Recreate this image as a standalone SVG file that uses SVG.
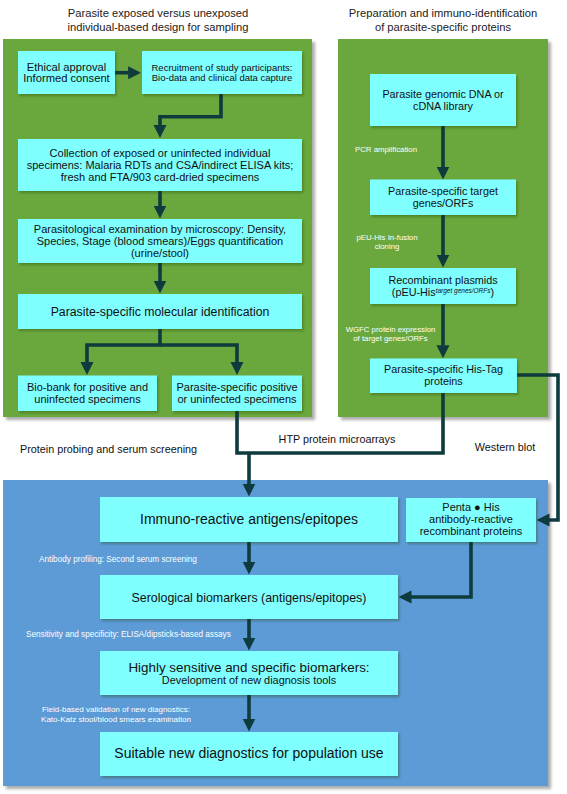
<svg xmlns="http://www.w3.org/2000/svg" width="567" height="794" viewBox="0 0 567 794">
<style>
text{font-family:"Liberation Sans",Arial,sans-serif;fill:#111;}
.t{font-size:11px;text-anchor:middle;}
.title{font-size:11.2px;text-anchor:middle;fill:#222;}
.s{font-size:7.8px;fill:#fff;}
.sc{font-size:7.8px;fill:#fff;text-anchor:middle;}
.sb{font-size:8.2px;fill:#fff;}
.box{fill:#80ffff;filter:url(#bs);}
.gp{fill:#6aa83e;filter:url(#ps);}
.bp{fill:#5b9bd5;filter:url(#ps);}
.c{fill:none;stroke:#0e3b3d;stroke-width:3.6;stroke-linejoin:miter;}
.a{marker-end:url(#ah);}
</style>
<defs>
<filter id="ps" x="-5%" y="-5%" width="112%" height="112%"><feDropShadow dx="3" dy="3" stdDeviation="1.5" flood-color="#444" flood-opacity="0.45"/></filter>
<filter id="bs" x="-5%" y="-5%" width="115%" height="120%"><feDropShadow dx="1.5" dy="2" stdDeviation="1" flood-color="#1d3d10" flood-opacity="0.35"/></filter>
<marker id="ah" viewBox="0 -7 13 14" refX="0.5" refY="0" markerWidth="13" markerHeight="14" markerUnits="userSpaceOnUse" orient="auto"><path d="M0,-6.5 L13,0 L0,6.5 z" fill="#0e3b3d"/></marker>
</defs>

<g id="titles">
<text class="title" x="158" y="17">Parasite exposed versus unexposed</text>
<text class="title" x="158" y="31">individual-based design for sampling</text>
<text class="title" x="443" y="17">Preparation and immuno-identification</text>
<text class="title" x="443" y="31">of parasite-specific proteins</text>
</g>

<g id="panels">
<rect id="panel-left" class="gp" x="3" y="39" width="309" height="378"/>
<rect id="panel-right" class="gp" x="338" y="39" width="210" height="378"/>
<rect id="panel-bottom" class="bp" x="3" y="480" width="545" height="306"/>
</g>

<g id="labels">
<text style="font-size:10.8px" x="20" y="453">Protein probing and serum screening</text>
<text style="font-size:10.8px;text-anchor:middle" x="337" y="443">HTP protein microarrays</text>
<text style="font-size:10.8px;text-anchor:middle" x="505" y="451">Western blot</text>
<text class="s" x="355" y="152">PCR amplification</text>
<text class="sc" x="387" y="239.5">pEU-His In-fusion</text>
<text class="sc" x="387" y="248.5">cloning</text>
<text class="sc" x="390.5" y="332">WGFC protein expression</text>
<text class="sc" x="390.5" y="341">of target genes/ORFs</text>
<text class="sb" x="39" y="561.5">Antibody profiling: Second serum screening</text>
<text class="sb" x="26" y="637">Sensitivity and specificity: ELISA/dipsticks-based assays</text>
<text class="sc" style="font-size:8px" x="116" y="712">Field-based validation of new diagnostics:</text>
<text class="sc" style="font-size:8px" x="116" y="721.5">Kato-Katz stool/blood smears examination</text>
</g>

<g id="connectors">
<path class="c a" d="M115,72.7 H128.6"/>
<path class="c a" d="M221,94 V116.7 H160 V125.5"/>
<path class="c a" d="M160,191 V206"/>
<path class="c a" d="M160,263 V281"/>
<path class="c a" d="M160,329 V345 H87 V362.5"/>
<path class="c a" d="M160,345 H237 V362.5"/>
<path class="c" d="M237,411 V453 H443 V393"/>
<path class="c a" d="M249,453 V484"/>
<path class="c a" d="M443,126 V167"/>
<path class="c a" d="M443,215 V255"/>
<path class="c a" d="M443,304 V345.7"/>
<path class="c a" d="M517,375 H558 V520 H549"/>
<path class="c a" d="M249,542 V562"/>
<path class="c a" d="M471,542 V597 H411"/>
<path class="c a" d="M249,619 V638"/>
<path class="c a" d="M249,695 V719"/>
</g>

<g id="n-ethical">
<rect class="box" x="18" y="51" width="97" height="43"/>
<text class="t" style="font-size:11.2px" x="66.5" y="71">Ethical approval</text>
<text class="t" style="font-size:11.2px" x="66.5" y="82">Informed consent</text>
</g>
<g id="n-recruit">
<rect class="box" x="142" y="51" width="160" height="43"/>
<text class="t" style="font-size:9.5px" x="222" y="70.5">Recruitment of study participants:</text>
<text class="t" style="font-size:9.5px" x="222" y="81">Bio-data and clinical data capture</text>
</g>
<g id="n-collection">
<rect class="box" x="18" y="139" width="284" height="52"/>
<text class="t" x="160" y="157">Collection of exposed or uninfected individual</text>
<text class="t" x="160" y="169">specimens: Malaria RDTs and CSA/indirect ELISA kits;</text>
<text class="t" x="160" y="181">fresh and FTA/903 card-dried specimens</text>
</g>
<g id="n-parasito">
<rect class="box" x="18" y="219" width="284" height="44"/>
<text class="t" x="160" y="233">Parasitological examination by microscopy: Density,</text>
<text class="t" x="160" y="245">Species, Stage (blood smears)/Eggs quantification</text>
<text class="t" x="160" y="257">(urine/stool)</text>
</g>
<g id="n-molecular">
<rect class="box" x="18" y="294" width="284" height="35"/>
<text class="t" style="font-size:12.3px" x="160" y="315.5">Parasite-specific molecular identification</text>
</g>
<g id="n-biobank">
<rect class="box" x="18" y="375.5" width="139" height="35.5"/>
<text class="t" x="87.5" y="391">Bio-bank for positive and</text>
<text class="t" x="87.5" y="403">uninfected specimens</text>
</g>
<g id="n-positive">
<rect class="box" x="172" y="375.5" width="130" height="35.5"/>
<text class="t" x="237" y="391">Parasite-specific positive</text>
<text class="t" x="237" y="403">or uninfected specimens</text>
</g>
<g id="n-genomic">
<rect class="box" x="370" y="74" width="146" height="52"/>
<text class="t" style="font-size:10.8px" x="443" y="98">Parasite genomic DNA or</text>
<text class="t" style="font-size:10.8px" x="443" y="110">cDNA library</text>
</g>
<g id="n-target">
<rect class="box" x="370" y="179.5" width="146" height="35.5"/>
<text class="t" style="font-size:10.8px" x="443" y="195">Parasite-specific target</text>
<text class="t" style="font-size:10.8px" x="443" y="206.5">genes/ORFs</text>
</g>
<g id="n-plasmid">
<rect class="box" x="370" y="268" width="146" height="36"/>
<text class="t" style="font-size:10.8px" x="443" y="283.5">Recombinant plasmids</text>
<text class="t" style="font-size:10.8px" x="443" y="296">(pEU-His<tspan style="font-size:6.5px;font-style:italic" dy="-3.5">target genes/ORFs</tspan><tspan dy="3.5">)</tspan></text>
</g>
<g id="n-histag">
<rect class="box" x="370" y="358.5" width="147" height="34.5"/>
<text class="t" style="font-size:10.8px" x="443.5" y="373">Parasite-specific His-Tag</text>
<text class="t" style="font-size:10.8px" x="443.5" y="385">proteins</text>
</g>
<g id="n-immuno">
<rect class="box" x="100" y="497" width="298" height="45"/>
<text class="t" style="font-size:14px" x="249" y="524">Immuno-reactive antigens/epitopes</text>
</g>
<g id="n-penta">
<rect class="box" x="406" y="498" width="130" height="44"/>
<text class="t" x="471" y="511">Penta ● His</text>
<text class="t" x="471" y="523">antibody-reactive</text>
<text class="t" x="471" y="535">recombinant proteins</text>
</g>
<g id="n-serological">
<rect class="box" x="100" y="575" width="298" height="44"/>
<text class="t" style="font-size:12.4px" x="249" y="601.5">Serological biomarkers (antigens/epitopes)</text>
</g>
<g id="n-highly">
<rect class="box" x="100" y="651" width="298" height="44"/>
<text class="t" style="font-size:13.4px" x="249" y="671.5">Highly sensitive and specific biomarkers:</text>
<text class="t" style="font-size:10.9px" x="249" y="684">Development of new diagnosis tools</text>
</g>
<g id="n-suitable">
<rect class="box" x="100" y="732" width="298" height="44"/>
<text class="t" style="font-size:14px" x="249" y="758">Suitable new diagnostics for population use</text>
</g>
</svg>
